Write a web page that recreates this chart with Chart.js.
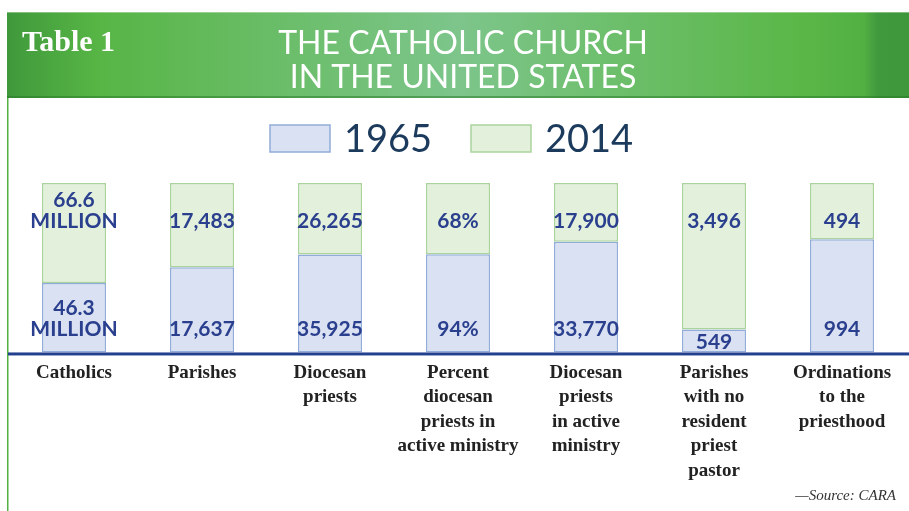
<!DOCTYPE html>
<html>
<head>
<meta charset="utf-8">
<style>
  html, body { margin: 0; padding: 0; background: #fff; }
  #wrap { width: 909px; height: 511px; position: relative; }
</style>
<script src="https://cdn.jsdelivr.net/npm/chart.js@4.4.1/dist/chart.umd.min.js"></script>
</head>
<body>
<div id="wrap"><canvas id="chart" width="909" height="511"></canvas></div>
<script>
// categories (x-axis tick labels, one entry per line)
const categories = [
  ['Catholics'],
  ['Parishes'],
  ['Diocesan', 'priests'],
  ['Percent', 'diocesan', 'priests in', 'active ministry'],
  ['Diocesan', 'priests', 'in active', 'ministry'],
  ['Parishes', 'with no', 'resident', 'priest', 'pastor'],
  ['Ordinations', 'to the', 'priesthood']
];

const values1965 = [46.3, 17637, 35925, 94, 33770, 549, 994];
const values2014 = [66.6, 17483, 26265, 68, 17900, 3496, 494];

// printed value labels
const labels1965 = [['46.3', 'MILLION'], ['17,637'], ['35,925'], ['94%'], ['33,770'], ['549'], ['994']];
const labels2014 = [['66.6', 'MILLION'], ['17,483'], ['26,265'], ['68%'], ['17,900'], ['3,496'], ['494']];

const seriesNames = ['1965', '2014'];

// each column is shown as a share of its 1965 + 2014 total
const share1965 = values1965.map((v, i) => v / (v + values2014[i]) * 100);
const share2014 = values2014.map((v, i) => v / (v + values1965[i]) * 100);

const NAVY = '#2a3f8e';

const decorPlugin = {
  id: 'decor',
  beforeDraw(chart) {
    const ctx = chart.ctx;
    ctx.save();
    // header band
    const g = ctx.createLinearGradient(7, 0, 909, 0);
    g.addColorStop(0, '#3f993b');
    g.addColorStop(0.1, '#57b545');
    g.addColorStop(0.5, '#7dc58b');
    g.addColorStop(0.88, '#5ab747');
    g.addColorStop(0.95, '#52b043');
    g.addColorStop(0.965, '#41993d');
    g.addColorStop(1, '#3e973b');
    ctx.fillStyle = g;
    ctx.fillRect(7, 12, 902, 86);
    ctx.fillStyle = 'rgba(255,255,255,0.35)';
    ctx.fillRect(7, 12, 902, 1);
    ctx.fillStyle = 'rgba(40,120,40,0.5)';
    ctx.fillRect(7, 96, 902, 2);
    // left rule
    ctx.fillStyle = '#52b142';
    ctx.fillRect(7, 98, 1.5, 413);

    ctx.fillStyle = '#ffffff';
    ctx.textBaseline = 'middle';
    ctx.textAlign = 'left';
    ctx.font = 'bold 30px "Liberation Serif", serif';
    ctx.fillText('Table 1', 22, 43);

    ctx.textAlign = 'center';
    ctx.font = '32px Lato, sans-serif';
    ctx.fillText('THE CATHOLIC CHURCH', 463, 44);
    ctx.fillText('IN THE UNITED STATES', 463, 78);

    // legend
    const ds = chart.data.datasets;
    const boxes = [270, 471];
    ds.forEach((d, i) => {
      ctx.fillStyle = d.backgroundColor;
      ctx.fillRect(boxes[i], 125, 60, 27);
      ctx.strokeStyle = d.borderColor;
      ctx.lineWidth = 1.5;
      ctx.strokeRect(boxes[i], 125, 60, 27);
      ctx.fillStyle = '#1b3a5c';
      ctx.textAlign = 'left';
      ctx.font = '38px Lato, sans-serif';
      ctx.fillText(d.label, boxes[i] + 74, 140);
    });

    // source
    ctx.fillStyle = '#333';
    ctx.textAlign = 'right';
    ctx.font = 'italic 15px "Liberation Serif", serif';
    ctx.fillText('\u2014Source: CARA', 896, 496);
    ctx.restore();
  },
  afterDatasetsDraw(chart) {
    const ctx = chart.ctx;
    const area = chart.chartArea;
    ctx.save();
    // value labels
    ctx.fillStyle = NAVY;
    ctx.textAlign = 'center';
    ctx.textBaseline = 'middle';
    ctx.font = 'bold 21px Lato, sans-serif';
    const lh = 21;
    chart.getDatasetMeta(0).data.forEach((bar, i) => {
      const lines = labels1965[i];
      const h = bar.base - bar.y;
      let last = bar.base - 23;
      if (h < 50) last = (bar.y + bar.base) / 2 + 1;
      lines.forEach((t, k) => {
        ctx.fillText(t, bar.x, last - (lines.length - 1 - k) * lh);
      });
    });
    chart.getDatasetMeta(1).data.forEach((bar, i) => {
      const lines = labels2014[i];
      const last = bar.y + 38;
      lines.forEach((t, k) => {
        ctx.fillText(t, bar.x, last - (lines.length - 1 - k) * lh);
      });
    });
    // baseline rule
    ctx.fillStyle = '#23408f';
    ctx.fillRect(8, area.bottom, 901, 3);
    ctx.restore();
  }
};

const ctx = document.getElementById('chart').getContext('2d');
new Chart(ctx, {
  type: 'bar',
  data: {
    labels: categories,
    datasets: [
      {
        label: seriesNames[0],
        data: share1965,
        backgroundColor: '#dae1f2',
        borderColor: '#91acd8',
        borderWidth: 1.5,
        borderSkipped: false
      },
      {
        label: seriesNames[1],
        data: share2014,
        backgroundColor: '#e3f0dc',
        borderColor: '#abd49d',
        borderWidth: 1.5,
        borderSkipped: false
      }
    ]
  },
  options: {
    responsive: false,
    animation: false,
    layout: { padding: { top: 183, left: 10, right: 3, bottom: 28 } },
    datasets: { bar: { barPercentage: 0.5, categoryPercentage: 1 } },
    plugins: {
      legend: { display: false },
      title: { display: false },
      tooltip: { enabled: false }
    },
    scales: {
      x: {
        stacked: true,
        grid: { display: false },
        border: { display: false },
        ticks: {
          color: '#222',
          padding: 0,
          maxRotation: 0,
          autoSkip: false,
          font: { family: '"Liberation Serif", serif', size: 19, weight: 'bold', lineHeight: 1.29 }
        }
      },
      y: {
        stacked: true,
        display: false,
        min: 0,
        max: 100
      }
    }
  },
  plugins: [decorPlugin]
});
</script>
</body>
</html>
